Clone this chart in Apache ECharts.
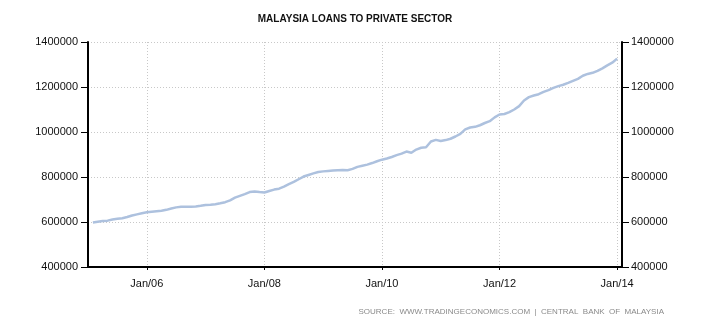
<!DOCTYPE html>
<html>
<head>
<meta charset="utf-8">
<script src="https://cdn.jsdelivr.net/npm/echarts@6/dist/echarts.min.js"></script>
<style>html,body{margin:0;padding:0;background:#fff;}#c{width:710px;height:325px;}</style>
</head>
<body>
<div id="c"></div>
<script>
// Monthly categories Jan 2005 .. Feb 2014
var months = [];
for (var y = 2005; y <= 2014; y++) {
  for (var m = 1; m <= 12; m++) {
    if (y === 2014 && m > 2) break;
    months.push(y + '-' + (m < 10 ? '0' + m : m));
  }
}
// Loans to private sector (MYR million), Feb 2005 .. Jan 2014
var loans = [
  null,
  598000, 601000, 604000, 606000, 611000, 614000, 617000, 622000, 629000, 634000, 639000,
  643000, 646000, 648000, 650000, 654000, 660000, 665000, 668000, 668000, 668000, 669000, 672000,
  676000, 677000, 679000, 683000, 688000, 696000, 708000, 716000, 724000, 733000, 736000, 733000,
  731000, 738000, 744000, 748000, 757000, 768000, 778000, 790000, 802000, 809000, 816000, 822000,
  825000, 827000, 829000, 830000, 831000, 830000, 836000, 845000, 850000, 855000, 862000, 870000,
  877000, 882000, 889000, 897000, 904000, 913000, 908000, 922000, 930000, 932000, 958000, 965000,
  960000, 964000, 970000, 980000, 992000, 1012000, 1020000, 1023000, 1030000, 1040000, 1048000, 1065000,
  1078000, 1080000, 1088000, 1100000, 1115000, 1140000, 1155000, 1162000, 1168000, 1178000, 1186000, 1196000,
  1204000, 1210000, 1218000, 1227000, 1236000, 1250000, 1258000, 1263000, 1272000, 1283000, 1296000, 1308000,
  1326000,
  null
];
var yTicks = { min: 400000, max: 1400000, step: 200000 };
var titleText = 'MALAYSIA LOANS TO PRIVATE SECTOR';
var sourceText = 'SOURCE:  WWW.TRADINGECONOMICS.COM  |  CENTRAL  BANK  OF  MALAYSIA';

function isMajor(idx, val) {
  var v = months[idx];
  var yy = parseInt(v.slice(0, 4), 10), mm = v.slice(5);
  return mm === '01' && yy % 2 === 0;
}
function fmtX(val) {
  return 'Jan/' + val.slice(2, 4);
}
function fmtY(v) { return String(v); }

var chart = echarts.init(document.getElementById('c'), null, { renderer: 'canvas' });
var axisFont = { fontFamily: 'Liberation Sans', fontSize: 11, color: '#111' };
chart.setOption({
  animation: false,
  backgroundColor: '#fff',
  title: [
    { text: titleText, left: 'center', top: 9,
      textStyle: { fontFamily: 'Liberation Sans', fontSize: 10, fontWeight: 'bold', color: '#111' } },
    { text: sourceText, right: 41, top: 303,
      textStyle: { fontFamily: 'Liberation Sans', fontSize: 8, fontWeight: 'normal', color: '#8a8a8a' } }
  ],
  grid: { left: 88, right: 88, top: 42, bottom: 58, containLabel: false },
  xAxis: {
    type: 'category',
    data: months,
    boundaryGap: false,
    axisLine: { show: true, lineStyle: { color: '#000', width: 2 } },
    axisTick: { show: true, interval: isMajor, length: 3, lineStyle: { color: '#000', width: 1 } },
    axisLabel: Object.assign({ interval: isMajor, formatter: fmtX, margin: 11 }, axisFont),
    splitLine: { show: true, interval: isMajor, lineStyle: { color: '#c8c8c8', type: [1, 2], width: 1 } }
  },
  yAxis: [
    { type: 'value', position: 'left', min: yTicks.min, max: yTicks.max, interval: yTicks.step,
      axisLine: { show: true, lineStyle: { color: '#000', width: 2 } },
      axisTick: { show: true, length: 7, lineStyle: { color: '#000', width: 1 } },
      axisLabel: Object.assign({ margin: 10, formatter: fmtY }, axisFont),
      splitLine: { show: true, lineStyle: { color: '#c8c8c8', type: [1, 2], width: 1 } } },
    { type: 'value', position: 'right', min: yTicks.min, max: yTicks.max, interval: yTicks.step,
      axisLine: { show: true, lineStyle: { color: '#000', width: 2 } },
      axisTick: { show: true, length: 7, lineStyle: { color: '#000', width: 1 } },
      axisLabel: Object.assign({ margin: 9, formatter: fmtY }, axisFont),
      splitLine: { show: false } }
  ],
  series: [{
    type: 'line',
    data: loans,
    yAxisIndex: 0,
    showSymbol: false,
    symbol: 'none',
    lineStyle: { color: '#adc1de', width: 2.5 },
    connectNulls: false
  }]
});
</script>
</body>
</html>
